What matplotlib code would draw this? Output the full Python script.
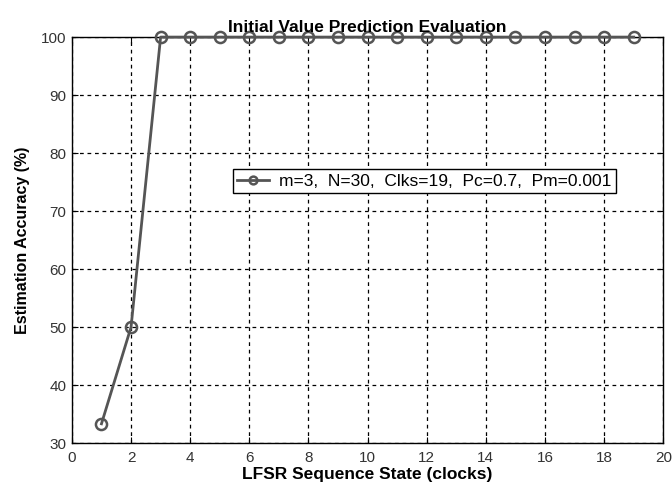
import matplotlib

matplotlib.use("Agg")
import matplotlib.pyplot as plt

# LFSR clock index vs. estimation accuracy (%)
clocks = list(range(1, 20))
accuracy = [33.33, 50.0] + [100.0] * 17
legend_label = "m=3,  N=30,  Clks=19,  Pc=0.7,  Pm=0.001"
x_ticks = list(range(0, 21, 2))
y_ticks = list(range(30, 101, 10))

plt.rcParams["font.family"] = ["Liberation Sans", "DejaVu Sans"]

fig = plt.figure(figsize=(6.72, 4.88), dpi=100)
ax = fig.add_axes([0.107, 0.092, 0.880, 0.832])

ax.plot(
    clocks,
    accuracy,
    color="#555555",
    linewidth=2.0,
    marker="o",
    markersize=8,
    markerfacecolor="none",
    markeredgecolor="#555555",
    markeredgewidth=1.8,
    clip_on=False,
    zorder=3,
    label=legend_label,
)

ax.set_xlim(0, 20)
ax.set_ylim(30, 100)
ax.set_xticks(x_ticks)
ax.set_yticks(y_ticks)
ax.tick_params(direction="in", length=4, labelsize=11, top=True, right=True,
               colors="black", labelcolor="#333333")
ax.tick_params(axis="x", pad=6)
ax.tick_params(axis="y", pad=4)
ax.grid(True, color="black", linestyle=(0, (3, 3)), linewidth=0.9)
for spine in ax.spines.values():
    spine.set_linewidth(1.0)

ax.set_title("Initial Value Prediction Evaluation", fontsize=12.5,
             fontweight="bold", pad=4)
ax.set_xlabel("LFSR Sequence State (clocks)", fontsize=12.5,
              fontweight="bold", labelpad=1)
ax.set_ylabel("Estimation Accuracy (%)", fontsize=11.5,
              fontweight="bold", labelpad=8)

leg = ax.legend(
    loc="center",
    bbox_to_anchor=(0.596, 0.645),
    fontsize=12.5,
    frameon=True,
    fancybox=False,
    edgecolor="black",
    handlelength=1.8,
    markerscale=0.7,
    borderpad=0.25,
    handletextpad=0.6,
)
leg.get_frame().set_linewidth(1.0)
leg.get_frame().set_alpha(1.0)

fig.savefig("out.png", dpi=100)
